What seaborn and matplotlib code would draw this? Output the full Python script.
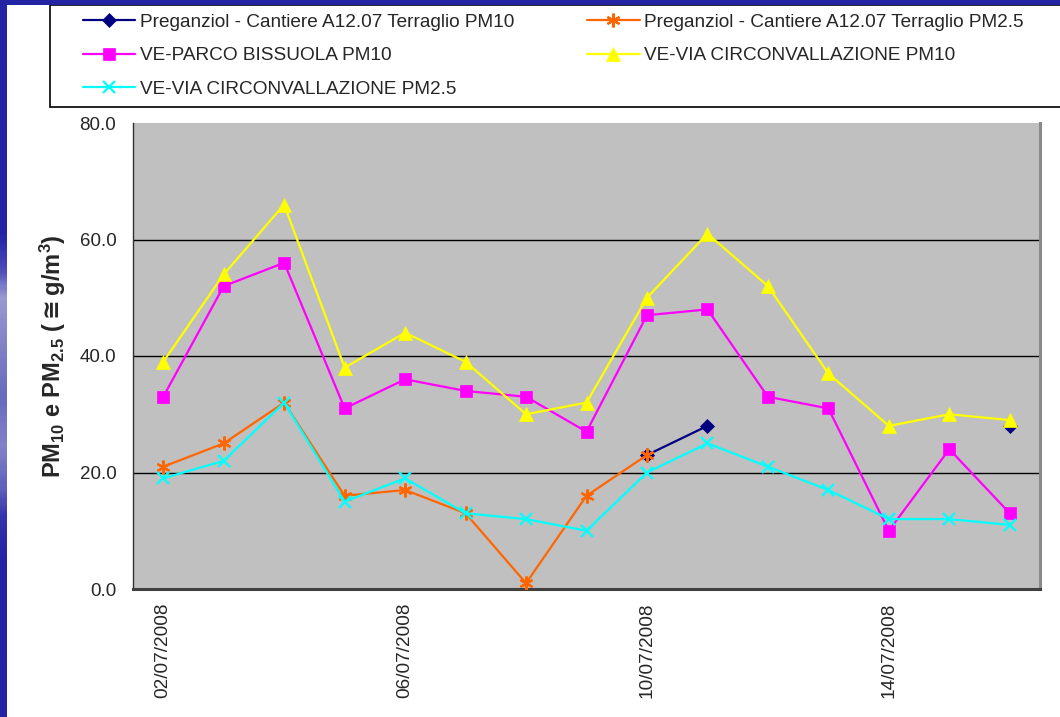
import numpy as np
import pandas as pd
import matplotlib
matplotlib.use("Agg")
import matplotlib.pyplot as plt
import seaborn as sns
from matplotlib.lines import Line2D
from matplotlib.patches import Rectangle
from matplotlib.ticker import FormatStrFormatter
from matplotlib.colors import LinearSegmentedColormap

nan = np.nan
dates = ["02/07/2008", "03/07/2008", "04/07/2008", "05/07/2008", "06/07/2008",
         "07/07/2008", "08/07/2008", "09/07/2008", "10/07/2008", "11/07/2008",
         "12/07/2008", "13/07/2008", "14/07/2008", "15/07/2008", "16/07/2008"]
preg_pm10 = [nan, nan, nan, nan, nan, nan, nan, nan, 23, 28, nan, nan, nan, nan, 28]
preg_pm25 = [21, 25, 32, 16, 17, 13, 1, 16, 23, nan, nan, nan, nan, nan, nan]
bissuola_pm10 = [33, 52, 56, 31, 36, 34, 33, 27, 47, 48, 33, 31, 10, 24, 13]
circ_pm10 = [39, 54, 66, 38, 44, 39, 30, 32, 50, 61, 52, 37, 28, 30, 29]
circ_pm25 = [19, 22, 32, 15, 19, 13, 12, 10, 20, 25, 21, 17, 12, 12, 11]

names = ["Preganziol - Cantiere A12.07 Terraglio PM10",
         "Preganziol - Cantiere A12.07 Terraglio PM2.5",
         "VE-PARCO BISSUOLA PM10",
         "VE-VIA CIRCONVALLAZIONE PM10",
         "VE-VIA CIRCONVALLAZIONE PM2.5"]
series = [preg_pm10, preg_pm25, bissuola_pm10, circ_pm10, circ_pm25]
colors = ["#000080", "#FF6600", "#FF00FF", "#FFFF00", "#00FFFF"]
markers = ["D", (6, 2, 0), "s", "^", "x"]
msizes = [7, 10, 9, 10, 9]

rows = []
for name, vals in zip(names, series):
    seg = 0
    for i, v in enumerate(vals):
        if np.isnan(v):
            seg += 1
            continue
        rows.append({"x": i, "value": v, "series": name, "seg": seg})
df = pd.DataFrame(rows)

sns.set_style("white")
plt.rcParams["font.family"] = ["Liberation Sans", "DejaVu Sans"]
plt.rcParams["mathtext.fontset"] = "custom"
plt.rcParams["mathtext.rm"] = "Liberation Sans:bold"
plt.rcParams["mathtext.it"] = "Liberation Sans:bold"
plt.rcParams["mathtext.bf"] = "Liberation Sans:bold"
plt.rcParams["mathtext.sf"] = "DejaVu Sans:bold"
plt.rcParams["mathtext.default"] = "rm"

W, H = 1060, 717
fig = plt.figure(figsize=(W / 100, H / 100), dpi=100)
fig.patch.set_facecolor("white")

ax = fig.add_axes([133 / W, 1 - 589 / H, (1040 - 133) / W, (589 - 123) / H])
ax.set_facecolor("#C0C0C0")

pal = dict(zip(names, colors))
mk = dict(zip(names, markers))
for name, ms in zip(names, msizes):
    sub = df[df["series"] == name]
    n_before = len(ax.lines)
    sns.lineplot(data=sub, x="x", y="value", hue="series", style="series",
                 units="seg", estimator=None, palette={name: pal[name]},
                 markers={name: mk[name]}, dashes=False, sort=False,
                 legend=False, ax=ax, lw=1.6, markersize=ms, zorder=3)
    for ln in ax.lines[n_before:]:
        ln.set_markeredgecolor(pal[name])
        ln.set_markerfacecolor(pal[name])
        ln.set_markeredgewidth(1.6 if (mk[name] == "x" or isinstance(mk[name], tuple)) else 0.5)

ax.set_xlim(-0.5, len(dates) - 0.5)
ax.set_ylim(0, 80)
ax.set_yticks([0, 20, 40, 60, 80])
ax.yaxis.set_major_formatter(FormatStrFormatter("%.1f"))
ax.set_xticks(range(0, len(dates), 4))
ax.set_xticklabels([dates[i] for i in range(0, len(dates), 4)], rotation=90)
ax.set_xticks(np.arange(-0.5, len(dates) - 1, 4), minor=True)
ax.tick_params(axis="x", which="major", length=0, pad=10, labelsize=13.7)
ax.tick_params(axis="x", which="minor", length=5, width=1, color="#404040", direction="out")
ax.tick_params(axis="y", which="major", length=5, width=1, color="#404040", direction="out",
               pad=7, labelsize=13.5)
ax.grid(axis="y", color="black", lw=1)
ax.set_axisbelow(True)
gl = ax.yaxis.get_gridlines()
gl[-1].set_visible(False)
gl[0].set_visible(False)
ax.set_xlabel("")
ax.set_ylabel(r"$PM_{10}$ e $PM_{2.5}$ ($\mathsf{{\cong}}$g/m$^{3}$)", fontsize=17,
              fontweight="bold", labelpad=8)

ax.spines["top"].set_visible(False)
ax.spines["left"].set_color("#303030")
ax.spines["left"].set_linewidth(1)
ax.spines["bottom"].set_color("#404040")
ax.spines["bottom"].set_linewidth(2.2)
ax.spines["right"].set_color("#8A8A8A")
ax.spines["right"].set_linewidth(2.2)

# legend frame
fig.add_artist(Rectangle((50 / W, 1 - 107 / H), 1.0, (107 - 5) / H, transform=fig.transFigure,
                         facecolor="white", edgecolor="black", lw=1.2, zorder=1))
handles = [Line2D([], [], color=c, marker=m, markersize=ms, lw=1.6, mec=c, mfc=c,
                  mew=(1.6 if (m == "x" or isinstance(m, tuple)) else 0.5))
           for c, m, ms in zip(colors, markers, msizes)]
order = [0, 2, 4, 1, 3]
leg = fig.legend([handles[i] for i in order], [names[i] for i in order],
                 loc="upper left", bbox_to_anchor=(75 / W, 1 - 6 / H), ncol=2,
                 frameon=False, fontsize=13.7, handlelength=2.75, handletextpad=0.25,
                 columnspacing=3.85, labelspacing=0.85, borderaxespad=0)
leg.set_zorder(2)

# blue border strips
fig.add_artist(Rectangle((0, 1 - 5 / H), 1, 5 / H, transform=fig.transFigure,
                         facecolor="#2323A6", edgecolor="none", zorder=5))
gax = fig.add_axes([0, 0, 7 / W, 1 - 5 / H])
gax.set_axis_off()
cmap = LinearSegmentedColormap.from_list("strip", [
    (0.0, "#2323A6"), (0.32, "#2323A6"), (0.37, "#4A4AB8"), (0.41, "#9A9AD4"),
    (0.47, "#8484C8"), (0.55, "#6A6ABE"), (0.62, "#8282C8"), (0.68, "#6060BC"),
    (0.72, "#3434AC"), (0.78, "#2323A6"), (1.0, "#2323A6")])
grad = np.linspace(0, 1, 300).reshape(-1, 1)
gax.imshow(grad, aspect="auto", cmap=cmap, extent=[0, 1, 1, 0])

fig.savefig("out.png", dpi=100, facecolor="white")
